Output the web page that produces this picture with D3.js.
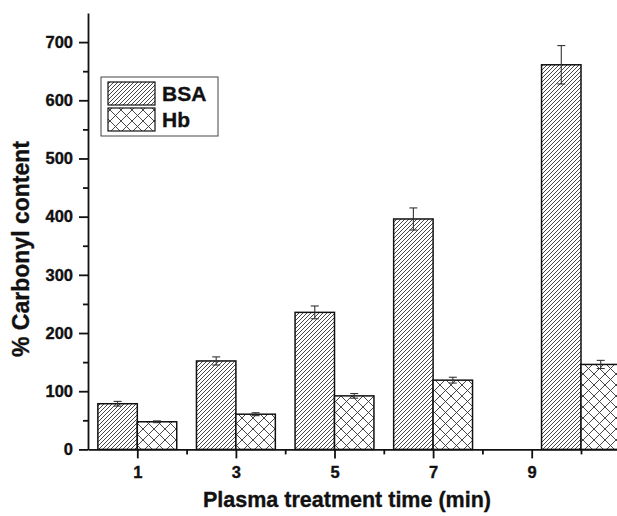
<!DOCTYPE html>
<html>
<head>
<meta charset="utf-8">
<script src="https://cdn.jsdelivr.net/npm/d3@7"></script>
<style>
  body { margin: 0; background: #fff; }
  text { font-family: "Liberation Sans", Arial, sans-serif; font-weight: bold; fill: #111; stroke: #111; stroke-width: 0.35px; }
</style>
</head>
<body>
<div id="chart"></div>
<script>
// Data
const times = [1, 3, 5, 7, 9];              // tick labels (min)
const plotX = [1, 3, 5, 7, 10];             // x value each group is drawn at (last group sits at 10 in the source)
const bsa = [78.5, 152, 235.5, 396, 661];
const bsaErr = [4, 7, 11, 19, 33];
const hb = [47.5, 60.5, 92, 119, 146];
const hbErr = [1.5, 2.5, 4, 5, 7];
const yTicks = [0, 100, 200, 300, 400, 500, 600, 700];
const yMinor = [50, 150, 250, 350, 450, 550, 650];
const xMinor = [2, 4, 6, 8, 10];

const fullWidth = 617, fullHeight = 516;
const plotLeft = 88, plotTop = 13, plotBottom = 449.4;
const unit = 49.3;          // px per minute on the x axis
const barW = 0.8;           // bar width in x units

const svg = d3.select("#chart")
    .append("svg")
    .attr("width", fullWidth)
    .attr("height", fullHeight);

// Patterns
const defs = svg.append("defs");
defs.append("pattern")
    .attr("id", "hatch")
    .attr("patternUnits", "userSpaceOnUse")
    .attr("width", 4).attr("height", 4)
    .append("path")
    .attr("d", "M-1,1 L1,-1 M0,4 L4,0 M3,5 L5,3")
    .attr("stroke", "#333")
    .attr("stroke-width", 0.9);

defs.append("pattern")
    .attr("id", "cross")
    .attr("patternUnits", "userSpaceOnUse")
    .attr("width", 11).attr("height", 11)
    .append("path")
    .attr("d", "M0,0 L11,11 M11,0 L0,11")
    .attr("stroke", "#333")
    .attr("stroke-width", 0.9);

// Scales
const x = d3.scaleLinear().domain([0, 11]).range([plotLeft, plotLeft + 11 * unit]);
const y = d3.scaleLinear().domain([0, 750]).range([plotBottom, plotTop]);

// Bars
const series = [
    { key: "BSA", values: bsa, err: bsaErr, fill: "url(#hatch)", off: -barW },
    { key: "Hb", values: hb, err: hbErr, fill: "url(#cross)", off: 0 }
];

series.forEach(s => {
    const g = svg.append("g");
    g.selectAll("rect.bg")
        .data(s.values)
        .join("rect")
        .attr("class", "bg")
        .attr("x", (d, i) => x(plotX[i] + s.off))
        .attr("y", d => y(d))
        .attr("width", x(barW) - x(0))
        .attr("height", d => y(0) - y(d))
        .attr("fill", "#fff");
    g.selectAll("rect.pat")
        .data(s.values)
        .join("rect")
        .attr("class", "pat")
        .attr("x", (d, i) => x(plotX[i] + s.off))
        .attr("y", d => y(d))
        .attr("width", x(barW) - x(0))
        .attr("height", d => y(0) - y(d))
        .attr("fill", s.fill)
        .attr("stroke", "#111")
        .attr("stroke-width", 1.5);

    // Error bars
    const cx = i => x(plotX[i] + s.off + barW / 2);
    const eg = g.selectAll("g.err")
        .data(s.values)
        .join("g")
        .attr("class", "err")
        .attr("stroke", "#333")
        .attr("stroke-width", 1.1);
    eg.append("line")
        .attr("x1", (d, i) => cx(i)).attr("x2", (d, i) => cx(i))
        .attr("y1", (d, i) => y(d + s.err[i]))
        .attr("y2", (d, i) => y(d - s.err[i]));
    eg.append("line")
        .attr("x1", (d, i) => cx(i) - 4).attr("x2", (d, i) => cx(i) + 4)
        .attr("y1", (d, i) => y(d + s.err[i]))
        .attr("y2", (d, i) => y(d + s.err[i]));
    eg.append("line")
        .attr("x1", (d, i) => cx(i) - 4).attr("x2", (d, i) => cx(i) + 4)
        .attr("y1", (d, i) => y(d - s.err[i]))
        .attr("y2", (d, i) => y(d - s.err[i]));
});

// Y axis
const yAxis = svg.append("g")
    .attr("transform", `translate(${plotLeft},0)`)
    .call(d3.axisLeft(y).tickValues(yTicks).tickSize(9).tickPadding(6).tickSizeOuter(0));
svg.append("g")
    .attr("transform", `translate(${plotLeft},0)`)
    .call(d3.axisLeft(y).tickValues(yMinor).tickSize(5).tickFormat("").tickSizeOuter(0))
    .select(".domain").remove();
yAxis.selectAll("text").style("font-size", "16.5px");

// X axis
const xAxis = svg.append("g")
    .attr("transform", `translate(0,${plotBottom})`)
    .call(d3.axisBottom(x).tickValues(times).tickSize(9).tickPadding(7.5).tickSizeOuter(0));
svg.append("g")
    .attr("transform", `translate(0,${plotBottom})`)
    .call(d3.axisBottom(x).tickValues(xMinor).tickSize(5).tickFormat("").tickSizeOuter(0))
    .select(".domain").remove();
xAxis.selectAll("text").style("font-size", "16.5px");

svg.selectAll(".domain, .tick line")
    .attr("stroke", "#111")
    .attr("stroke-width", 1.8);

// Axis titles
svg.append("text")
    .attr("text-anchor", "middle")
    .attr("x", 347)
    .attr("y", 507)
    .style("font-size", "21.5px")
    .text("Plasma treatment time (min)");

svg.append("text")
    .attr("text-anchor", "middle")
    .attr("transform", "rotate(-90)")
    .attr("x", -249)
    .attr("y", 29)
    .style("font-size", "23px")
    .text("% Carbonyl content");

// Legend
const legend = svg.append("g");
legend.append("rect")
    .attr("x", 101).attr("y", 77)
    .attr("width", 117).attr("height", 59)
    .attr("fill", "#fff")
    .attr("stroke", "#444")
    .attr("stroke-width", 1);

series.forEach((s, i) => {
    const ly = 82 + i * 26;
    legend.append("rect")
        .attr("x", 108).attr("y", ly)
        .attr("width", 47).attr("height", 23)
        .attr("fill", s.fill)
        .attr("stroke", "#111")
        .attr("stroke-width", 1.2);
    legend.append("text")
        .attr("x", 162)
        .attr("y", ly + 19)
        .style("font-size", "21px")
        .text(s.key);
});
</script>
</body>
</html>
